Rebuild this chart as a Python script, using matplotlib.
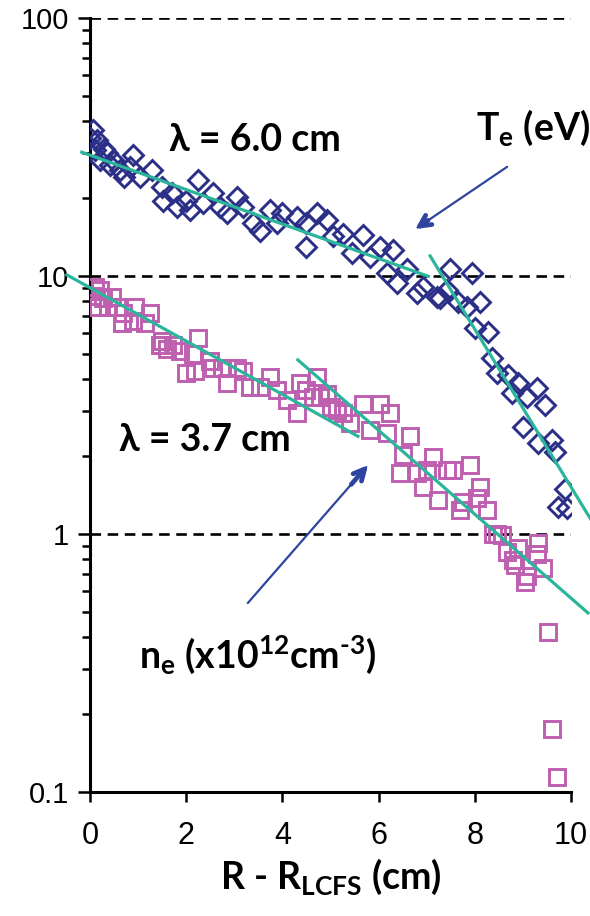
import numpy as np
import matplotlib
matplotlib.use("Agg")
import matplotlib.pyplot as plt

# electron temperature (eV) vs R - R_LCFS (cm)
te_x = [0.0, 0.06, 0.1, 0.15, 0.2, 0.3, 0.35, 0.42, 0.5, 0.62, 0.7, 0.83, 0.9, 1.04,
        1.29, 1.5, 1.52, 1.7, 1.8, 2.0, 2.08, 2.25, 2.35, 2.56, 2.7, 2.85, 3.05, 3.18,
        3.39, 3.53, 3.74, 3.89, 4.0, 4.3, 4.5, 4.5, 4.72, 4.93, 5.05, 5.26, 5.45, 5.68,
        5.82, 6.03, 6.17, 6.3, 6.38, 6.59, 6.8, 6.92, 7.21, 7.28, 7.42, 7.48, 7.65, 7.84,
        7.94, 8.0, 8.1, 8.27, 8.36, 8.46, 8.69, 8.77, 8.9, 9.0, 9.08, 9.29, 9.31, 9.46,
        9.6, 9.67, 9.73, 9.88, 9.92]
te_y = [34.3, 36.8, 30.8, 33.6, 28.2, 31.0, 30.0, 26.9, 28.0, 25.7, 24.2, 26.5, 29.5, 24.2,
        25.7, 22.2, 19.6, 21.0, 18.5, 19.6, 18.0, 23.5, 19.2, 21.0, 18.5, 17.5, 20.2, 18.5,
        16.0, 15.0, 18.0, 16.0, 17.5, 16.9, 12.9, 16.0, 17.5, 16.5, 14.3, 14.6, 12.3, 14.4,
        11.9, 12.9, 10.3, 12.6, 9.4, 10.6, 8.6, 9.1, 8.3, 8.2, 8.8, 10.6, 7.9, 7.6,
        10.3, 6.3, 7.9, 6.06, 4.8, 4.2, 4.14, 3.52, 3.84, 2.6, 3.4, 3.68, 2.25, 3.16,
        2.31, 2.08, 1.27, 1.5, 1.26]

# electron density (x10^12 cm^-3)
ne_x = [0.04, 0.1, 0.17, 0.2, 0.27, 0.37, 0.45, 0.56, 0.66, 0.69, 0.9, 0.94, 1.15, 1.25,
        1.46, 1.5, 1.6, 1.73, 1.87, 2.0, 2.15, 2.18, 2.25, 2.5, 2.56, 2.74, 2.85, 3.05,
        3.18, 3.33, 3.53, 3.74, 3.89, 4.1, 4.3, 4.37, 4.5, 4.64, 4.72, 4.78, 4.93, 5.0,
        5.13, 5.26, 5.4, 5.68, 5.82, 6.03, 6.17, 6.24, 6.44, 6.5, 6.65, 6.8, 6.92, 7.0,
        7.13, 7.23, 7.42, 7.55, 7.69, 7.75, 7.9, 8.05, 8.1, 8.25, 8.38, 8.46, 8.57, 8.67,
        8.8, 8.84, 8.9, 9.04, 9.08, 9.29, 9.31, 9.42, 9.52, 9.6, 9.71]
ne_y = [8.4, 9.04, 7.6, 8.8, 8.2, 7.6, 8.3, 7.6, 6.6, 7.2, 6.7, 7.6, 6.6, 7.2,
        5.4, 5.6, 5.2, 5.4, 5.1, 4.2, 5.0, 4.3, 5.75, 4.7, 4.4, 4.4, 3.85, 4.4,
        4.3, 3.7, 3.7, 4.06, 3.6, 3.3, 2.95, 3.85, 3.6, 3.4, 4.06, 3.4, 3.5, 3.1,
        3.03, 2.95, 2.7, 3.2, 2.53, 3.2, 2.46, 2.95, 1.72, 2.02, 2.4, 1.72, 1.52, 1.77,
        1.99, 1.35, 1.77, 1.77, 1.24, 1.33, 1.85, 1.38, 1.52, 1.24, 1.0, 1.0, 0.99, 0.85,
        0.79, 0.76, 0.88, 0.65, 0.69, 0.84, 0.92, 0.74, 0.417, 0.176, 0.114]

# exponential fits: (x start, y at start, decay length, x end)
te_fits = [(-0.17, 30.2, 6.5, 7.03), (7.07, 11.96, 1.42, 10.4)]
ne_fits = [(-0.48, 10.1, 4.2, 5.57), (4.32, 4.73, 2.67, 10.35)]

# arrows: (tail, tip)
arrows = [((8.67, 26.5), (6.76, 15.2)), ((3.28, 0.54), (5.78, 1.85))]

navy = "#2B2F88"
pink = "#BF5FB0"
teal = "#2BB59B"
arrow_col = "#2F44A0"

plt.rcParams["font.family"] = ["Liberation Sans", "DejaVu Sans"]
plt.rcParams["mathtext.fontset"] = "custom"
plt.rcParams["mathtext.rm"] = "Lato:bold"
plt.rcParams["mathtext.it"] = "Lato:bold"
plt.rcParams["mathtext.bf"] = "Lato:bold"

fig = plt.figure(figsize=(5.9, 9.16), dpi=100)
ax = fig.add_axes([0.1525, 0.1354, 0.8155, 0.8449])

for y in [1, 10, 100]:
    ax.axhline(y, color="black", lw=1.9, ls=(0, (4, 2.5)), zorder=1)

ax.plot(te_x, te_y, "D", ms=10.5, mfc="none", mec=navy, mew=2.1, zorder=3)
ax.plot(ne_x, ne_y, "s", ms=11.5, mfc="none", mec=pink, mew=2.1, zorder=3)

for x0, y0, lam, x1 in te_fits + ne_fits:
    xs = np.linspace(x0, x1, 50)
    ax.plot(xs, y0 * np.exp(-(xs - x0) / lam), color=teal, lw=2.3, clip_on=False, zorder=4)

ax.set_yscale("log")
ax.set_xlim(0, 10)
ax.set_ylim(0.1, 100)
ax.set_xticks([0, 2, 4, 6, 8, 10])
ax.set_yticks([0.1, 1, 10, 100], labels=["0.1", "1", "10", "100"])
ax.tick_params(axis="x", labelsize=22, width=1.8, length=7, direction="out", pad=14)
ax.tick_params(axis="y", which="major", labelsize=21, width=1.8, length=9, direction="out", pad=6)
ax.tick_params(axis="y", which="minor", width=1.8, length=6, direction="out")
for s in ["top", "right"]:
    ax.spines[s].set_visible(False)
for s in ["left", "bottom"]:
    ax.spines[s].set_linewidth(2.2)

ax.set_xlabel(r"R - R$_{\mathrm{LCFS}}$ (cm)", fontsize=27, family="Lato", fontweight="bold", labelpad=4)

tfont = dict(family="Lato", fontweight="bold", fontsize=27, ha="center", va="center")
ax.text(3.43, 33.7, "λ = 6.0 cm", **tfont)
ax.text(2.39, 2.31, "λ = 3.7 cm", **tfont)
ax.text(9.2, 37.5, r"T$_{\mathrm{e}}$ (eV)", clip_on=False, **tfont)
ax.text(3.49, 0.34, r"n$_{\mathrm{e}}$ (x10$^{\mathrm{12}}$cm$^{\text{-3}}$)", **tfont)

for (tx, ty), (hx, hy) in arrows:
    ax.annotate("", xy=(hx, hy), xytext=(tx, ty),
                arrowprops=dict(arrowstyle="-", color=arrow_col, lw=1.6, shrinkA=0, shrinkB=2))
    # short thick piece near the tip carries the open head
    bx = hx + 0.14 * (tx - hx)
    by = hy * (ty / hy) ** 0.14
    ax.annotate("", xy=(hx, hy), xytext=(bx, by),
                arrowprops=dict(arrowstyle="->,head_length=0.8,head_width=0.4",
                                color=arrow_col, lw=3.4, shrinkA=0, shrinkB=0,
                                capstyle="round", joinstyle="round"))

fig.savefig("out.png", dpi=100)
